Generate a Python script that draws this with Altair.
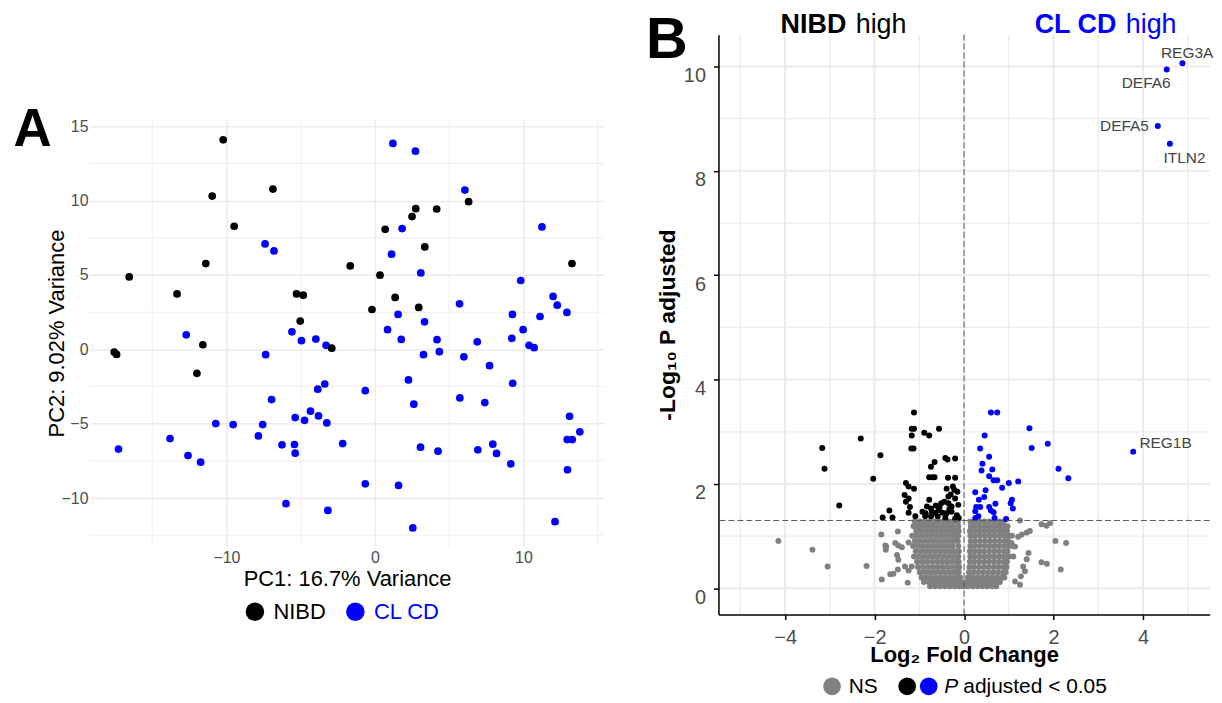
import altair as alt
import pandas as pd

# ---------------- Panel A: PCA ----------------
nibd_pc1 = [-10.22, -6.87, -10.96, -9.48, -11.39, -16.55, -13.33, -5.28, -4.83, -5.03,
            -11.59, -1.66, 0.34, -0.20, 0.69, -2.91, -17.56, -17.40, -11.99, 2.75,
            4.16, 2.50, 6.31, 3.36, 13.27, 1.36, 2.95]
nibd_pc2 = [14.09, 10.78, 10.31, 8.28, 5.77, 4.87, 3.73, 3.73, 3.64, 1.90,
            0.31, 5.61, 4.99, 2.68, 8.07, 0.08, -0.18, -0.34, -1.61, 9.46,
            9.44, 8.93, 9.93, 6.89, 5.77, 3.49, 2.82]

clcd_pc1 = [-7.40, -6.80, -12.71, -5.59, -4.95, -3.98, -3.29, -7.36, 0.85, -3.38,
            -3.85, -0.65, -6.96, -4.34, -3.80, -5.37, -4.74, -3.24, -10.72, -9.55,
            -7.56, -7.85, -13.80, -17.27, -6.26, -5.42, -5.37, -2.17, -12.59, -11.74,
            -0.65, -5.99, -3.17,
            1.21, 2.73, 6.06, 1.83, 11.25, 1.12, 3.09, 9.82, 5.70, 12.00,
            12.28, 12.93, 1.56, 9.26, 11.12, 3.34, 1.77, 4.18, 6.89, 9.22,
            9.98, 10.38, 10.72,
            3.27, 4.34, 5.99, 7.72, 2.26, 9.28, 5.72, 2.62, 7.40, 13.11,
            3.07, 4.25, 6.93, 7.94, 8.19, 9.15, 12.95, 13.29, 13.80, 12.97,
            1.59, 12.13, 2.55]
clcd_pc2 = [7.09, 6.62, 0.98, 1.18, 0.58, 0.69, 0.27, -0.36, 1.32, -2.33,
            -2.68, -2.78, -3.38, -4.16, -4.48, -4.59, -4.77, -4.95, -4.99, -5.06,
            -5.06, -5.82, -6.00, -6.71, -6.42, -6.40, -6.98, -6.34, -7.14, -7.59,
            -9.04, -10.38, -10.83,
            13.85, 13.33, 10.71, 8.12, 8.23, 6.40, 5.14, 4.63, 3.06, 3.56,
            2.97, 2.48, 2.35, 2.35, 2.21, 1.85, 0.67, 0.65, 0.51, 0.74,
            1.32, 0.27, 0.11,
            -0.36, -0.16, -0.50, -1.10, -2.06, -2.28, -3.27, -3.69, -3.58, -4.50,
            -6.58, -6.85, -6.76, -6.38, -7.00, -7.70, -6.07, -6.07, -5.55, -8.10,
            -9.15, -11.59, -12.01]

pca_groups = ["NIBD", "CL CD"]
pca_colors = ["#000000", "#0000FF"]
pca_x_major = [-10, 0, 10]
pca_x_minor = [-15, -5, 5, 15]
pca_y_major = [-10, -5, 0, 5, 10, 15]
pca_y_minor = [12.5, 7.5, 2.5, -2.5, -7.5, -12.5]

# ---------------- Panel B: volcano ----------------
# dense non-significant core, read row by row: (-log10 p, [log2FC ...])
ns_core_rows = [
    (1.28, [-1.10, -0.99, -0.88, -0.77, -0.66, -0.55, -0.44, -0.34, -0.24, -0.14,
            0.14, 0.24, 0.34, 0.45, 0.56, 0.67, 0.78, 0.88]),
    (1.19, [-1.13, -1.02, -0.91, -0.80, -0.69, -0.58, -0.47, -0.36, -0.25, -0.13,
            0.15, 0.25, 0.36, 0.47, 0.58, 0.69, 0.80, 0.90, 0.97]),
    (1.10, [-1.07, -0.96, -0.85, -0.74, -0.63, -0.52, -0.41, -0.30, -0.20, -0.12,
            0.13, 0.23, 0.34, 0.45, 0.56, 0.67, 0.78, 0.88, 0.96]),
    (1.01, [-1.16, -1.05, -0.94, -0.83, -0.72, -0.61, -0.50, -0.39, -0.28, -0.18, -0.13,
            0.14, 0.24, 0.35, 0.46, 0.57, 0.68, 0.79, 0.90, 1.00, 1.07]),
    (0.91, [-1.10, -0.99, -0.88, -0.77, -0.66, -0.55, -0.44, -0.33, -0.23, -0.14,
            0.15, 0.25, 0.36, 0.47, 0.58, 0.69, 0.80, 0.91, 0.98]),
    (0.81, [-1.14, -1.03, -0.92, -0.81, -0.70, -0.59, -0.48, -0.37, -0.26, -0.13,
            0.14, 0.24, 0.35, 0.46, 0.57, 0.68, 0.79, 0.90, 1.00, 1.09]),
    (0.71, [-1.08, -0.97, -0.86, -0.75, -0.64, -0.53, -0.42, -0.31, -0.21, -0.12,
            0.13, 0.23, 0.34, 0.45, 0.56, 0.67, 0.78, 0.89, 0.97]),
    (0.61, [-1.12, -1.01, -0.90, -0.79, -0.68, -0.57, -0.46, -0.35, -0.24, -0.13,
            0.14, 0.24, 0.35, 0.46, 0.57, 0.68, 0.79, 0.90, 1.00]),
    (0.51, [-1.05, -0.94, -0.83, -0.72, -0.61, -0.50, -0.39, -0.28, -0.18, -0.12,
            0.13, 0.23, 0.34, 0.45, 0.56, 0.67, 0.78, 0.89, 0.96]),
    (0.41, [-1.03, -0.92, -0.81, -0.70, -0.59, -0.48, -0.37, -0.26, -0.16, -0.11,
            0.12, 0.22, 0.33, 0.44, 0.55, 0.66, 0.77, 0.88, 0.95]),
    (0.31, [-0.99, -0.88, -0.77, -0.66, -0.55, -0.44, -0.33, -0.22, -0.12,
            0.11, 0.21, 0.32, 0.43, 0.54, 0.65, 0.76, 0.87, 0.93]),
    (0.21, [-0.95, -0.84, -0.73, -0.62, -0.51, -0.40, -0.29, -0.18, -0.09,
            0.09, 0.18, 0.29, 0.40, 0.51, 0.62, 0.73, 0.84, 0.90]),
    (0.12, [-0.90, -0.79, -0.68, -0.57, -0.46, -0.35, -0.24, -0.14, -0.05,
            0.05, 0.14, 0.25, 0.36, 0.47, 0.58, 0.69, 0.80]),
    (0.04, [-0.76, -0.65, -0.54, -0.43, -0.32, -0.21, -0.11, -0.02,
            0.08, 0.19, 0.30, 0.41, 0.52, 0.63, 0.72]),
]
ns_scatter = [(-4.15, 0.91), (-3.39, 0.74), (-3.05, 0.42), (-2.18, 0.43), (-1.85, 1.03),
              (-1.48, 1.09), (-1.76, 0.82), (-1.75, 0.74), (-1.54, 0.87), (-1.47, 0.82),
              (-1.39, 0.79), (-1.24, 0.88), (-1.50, 0.64), (-1.47, 0.55), (-1.48, 0.36),
              (-1.24, 0.34), (-1.65, 0.27), (-1.84, 0.17), (-1.26, 0.11), (-1.32, 0.42),
              (-1.17, 0.42), (-1.58, 0.28), (-1.74, 0.80),
              (1.25, 1.30), (1.73, 1.23), (1.84, 1.20), (1.92, 1.25), (1.47, 1.10),
              (1.40, 1.07), (1.29, 1.03), (2.04, 0.91), (2.28, 0.87), (2.16, 0.36),
              (1.73, 0.50), (1.85, 0.47), (1.44, 0.68), (1.40, 0.56), (1.32, 0.42),
              (1.36, 0.33), (1.27, 0.23), (1.14, 0.13), (1.25, 0.07), (1.14, 0.80),
              (1.06, 0.87), (1.21, 0.99), (1.10, 0.61)]
nibd_sig = [(-3.17, 2.69), (-3.12, 2.29), (-2.79, 1.59), (-2.31, 2.87), (-1.87, 2.55),
            (-2.03, 2.10), (-1.67, 1.49), (-1.82, 1.36), (-1.60, 1.36), (-1.12, 3.37),
            (-1.17, 3.06), (-1.12, 3.06), (-1.17, 2.93), (-0.89, 2.98), (-0.78, 2.93),
            (-0.56, 3.06), (-1.18, 2.68), (-1.13, 2.68), (-0.42, 2.50), (-0.37, 2.47),
            (-0.20, 2.49), (-0.66, 2.42), (-0.74, 2.33), (-0.78, 2.13), (-0.70, 2.13),
            (-0.66, 2.13), (-0.36, 2.12), (-0.20, 2.12), (-1.30, 2.02), (-1.24, 1.95),
            (-1.12, 1.91), (-1.33, 1.79), (-1.24, 1.72), (-0.39, 1.91), (-0.25, 1.95),
            (-0.22, 1.89), (-0.35, 1.76), (-0.20, 1.72), (-0.44, 1.66), (-0.35, 1.63),
            (-0.28, 1.57), (-0.51, 1.63), (-0.63, 1.59), (-0.74, 1.53), (-0.83, 1.57),
            (-0.78, 1.70), (-0.93, 1.47), (-0.86, 1.44), (-0.72, 1.47), (-0.57, 1.50),
            (-0.39, 1.44), (-0.28, 1.47), (-0.16, 1.40), (-0.59, 1.38), (-0.74, 1.38),
            (-0.87, 1.38), (-0.42, 1.35), (-0.20, 1.34), (-1.09, 1.38), (-1.24, 1.45),
            (-1.21, 1.56), (-1.30, 1.66), (-0.15, 1.85), (-0.30, 1.80), (-0.48, 1.45),
            (-0.33, 1.52), (-0.13, 1.60), (-0.12, 1.35), (-0.55, 1.55), (-0.65, 1.45)]
clcd_sig = [(0.60, 3.37), (0.74, 3.37), (1.46, 3.07), (0.46, 2.93), (1.87, 2.77),
            (1.51, 2.69), (0.36, 2.68), (0.56, 2.52), (0.41, 2.39), (0.63, 2.28),
            (0.39, 2.26), (2.11, 2.29), (2.33, 2.11), (0.56, 2.15), (0.66, 2.07),
            (0.74, 2.07), (1.00, 2.02), (1.21, 2.05), (0.85, 1.93), (0.25, 1.84),
            (0.48, 1.88), (0.45, 1.75), (0.33, 1.70), (1.07, 1.70), (1.04, 1.63),
            (1.09, 1.53), (0.70, 1.62), (0.27, 1.56), (0.36, 1.56), (0.25, 1.48),
            (0.32, 1.38), (0.25, 1.35), (0.56, 1.56), (0.60, 1.49), (0.66, 1.46),
            (0.68, 1.35), (0.94, 1.33)]
gene_names = ["REG3A", "DEFA6", "DEFA5", "ITLN2", "REG1B"]
gene_lfc = [4.88, 4.53, 4.33, 4.60, 3.78]
gene_nlp = [10.06, 9.94, 8.86, 8.52, 2.62]

volc_cats = ["NS", "NIBD", "CL CD"]
volc_colors = ["#808080", "#000000", "#0000FF"]
volc_x_major = [-4, -2, 0, 2, 4]
volc_x_minor = [-5, -3, -1, 1, 3, 5]
volc_y_major = [0, 2, 4, 6, 8, 10]
volc_y_minor = [1, 3, 5, 7, 9]
padj_cut = 0.05
nlp_cut = 1.30103  # -log10(0.05)

# label placement (pixel offsets from each gene's point) -- style, not data
label_offsets = {"REG3A": (4.7, -5.4), "DEFA6": (-20.7, 18.3), "DEFA5": (-33.5, 4.7),
                 "ITLN2": (14.6, 19.0), "REG1B": (32.5, -3.4)}

GRID = "#EBEBEB"
LAB = "#4D4D4D"
one = pd.DataFrame({"k": [0]})


def txt(text, x, y, size, weight="normal", color="black", align="left", style="normal",
        baseline="alphabetic"):
    return alt.Chart(one).mark_text(text=text, fontSize=size, fontWeight=weight, color=color,
                                    align=align, fontStyle=style,
                                    baseline=baseline).encode(x=alt.value(x), y=alt.value(y))


# ---------- build panel A ----------
pca_df = pd.concat([
    pd.DataFrame({"PC1": clcd_pc1, "PC2": clcd_pc2, "group": "CL CD"}),
    pd.DataFrame({"PC1": nibd_pc1, "PC2": nibd_pc2, "group": "NIBD"}),
], ignore_index=True)

axis_ax = alt.Axis(values=pca_x_major, grid=True, gridColor=GRID, gridWidth=1.4, domain=False,
                   ticks=False, tickSize=0, labelFontSize=16, labelColor=LAB, labelPadding=2.5,
                   titleFontSize=22, titleFontWeight="normal", titleColor="black",
                   titleY=39, titleBaseline="alphabetic")
axis_ay = alt.Axis(values=pca_y_major, grid=True, gridColor=GRID, gridWidth=1.4, domain=False,
                   ticks=False, tickSize=0, labelFontSize=16, labelColor=LAB, labelPadding=2,
                   titleFontSize=22, titleFontWeight="normal", titleColor="black",
                   titleX=-26.7, titleBaseline="alphabetic")
xA = alt.X("PC1:Q", scale=alt.Scale(domain=[-19.19, 15.44], nice=False, zero=False),
           axis=axis_ax, title="PC1: 16.7% Variance")
yA = alt.Y("PC2:Q", scale=alt.Scale(domain=[-13.28, 15.47], nice=False, zero=False),
           axis=axis_ay, title="PC2: 9.02% Variance")

minor_ax = alt.Chart(pd.DataFrame({"PC1": pca_x_minor})).mark_rule(
    color=GRID, strokeWidth=0.8).encode(x=xA)
minor_ay = alt.Chart(pd.DataFrame({"PC2": pca_y_minor})).mark_rule(
    color=GRID, strokeWidth=0.8).encode(y=yA)

pts_a = alt.Chart(pca_df).mark_circle(size=60, opacity=1).encode(
    x=xA, y=yA,
    color=alt.Color("group:N", scale=alt.Scale(domain=pca_groups, range=pca_colors),
                    legend=alt.Legend(title=None, orient="none", legendX=154.5, legendY=568.2,
                                      direction="horizontal", symbolType="circle",
                                      symbolSize=346, symbolStrokeWidth=0, symbolOpacity=1,
                                      labelFontSize=22, labelOffset=7.6, columnPadding=17.8,
                                      padding=0,
                                      labelColor={"expr": "datum.label == 'CL CD' ? '#0000FF' : '#000000'"})),
)

panel_a = alt.layer(
    minor_ax, minor_ay, pts_a,
    txt("A", -76.7, 27, 53, weight="bold"),
).properties(width=516, height=429)

# empty spacer that pushes panel A down relative to panel B
spacer = alt.Chart(one).mark_point(opacity=0).encode(
    x=alt.value(0), y=alt.value(0)).properties(width=10, height=70)

# ---------- build panel B ----------
ns_pts = [(x, y) for y, xs in ns_core_rows for x in xs] + ns_scatter
gene_pts = list(zip(gene_lfc, gene_nlp))
volc_df = pd.concat([
    pd.DataFrame(ns_pts, columns=["lfc", "nlp"]).assign(cat="NS"),
    pd.DataFrame(nibd_sig, columns=["lfc", "nlp"]).assign(cat="NIBD"),
    pd.DataFrame(clcd_sig + gene_pts, columns=["lfc", "nlp"]).assign(cat="CL CD"),
], ignore_index=True)

axis_bx = alt.Axis(values=volc_x_major, grid=False, domainColor="black", domainWidth=1.5,
                   tickColor="black", tickWidth=1.5, tickSize=5, labelFontSize=20,
                   labelColor=LAB, labelPadding=8, titleFontSize=22, titleFontWeight="bold",
                   titleColor="black", titleY=47.5, titleBaseline="alphabetic", zindex=1)
axis_by = alt.Axis(values=volc_y_major, grid=False, domainColor="black", domainWidth=1.5,
                   tickColor="black", tickWidth=1.5, tickSize=5, labelFontSize=20,
                   labelColor=LAB, labelPadding=8, labelBaseline="top", labelOffset=-1,
                   titleFontSize=23, titleFontWeight="bold", titleColor="black",
                   titleX=-44.5, titleBaseline="alphabetic", zindex=1)
xB = alt.X("lfc:Q", scale=alt.Scale(domain=[-5.49, 5.49], nice=False, zero=False),
           axis=axis_bx, title="Log₂ Fold Change")
yB = alt.Y("nlp:Q", scale=alt.Scale(domain=[-0.502, 10.61], nice=False, zero=False),
           axis=axis_by, title="-Log₁₀ P adjusted")

grid_layers = [
    alt.Chart(pd.DataFrame({"lfc": volc_x_minor})).mark_rule(color=GRID, strokeWidth=1.2).encode(x=xB),
    alt.Chart(pd.DataFrame({"nlp": volc_y_minor})).mark_rule(color=GRID, strokeWidth=1.2).encode(y=yB),
    alt.Chart(pd.DataFrame({"lfc": volc_x_major})).mark_rule(color=GRID, strokeWidth=2).encode(x=xB),
    alt.Chart(pd.DataFrame({"nlp": volc_y_major})).mark_rule(color=GRID, strokeWidth=2).encode(y=yB),
]

pts_b = alt.Chart(volc_df).mark_circle(size=36, opacity=1).encode(
    x=xB, y=yB,
    color=alt.Color("cat:N", scale=alt.Scale(domain=volc_cats, range=volc_colors), legend=None),
)

vline = alt.Chart(pd.DataFrame({"lfc": [0]})).mark_rule(
    color="#555555", strokeWidth=1, strokeDash=[6, 3]).encode(x=xB)
hline = alt.Chart(pd.DataFrame({"nlp": [nlp_cut]})).mark_rule(
    color="#555555", strokeWidth=1, strokeDash=[6, 3]).encode(y=yB)

gene_layers = []
for name, lfc, nlp in zip(gene_names, gene_lfc, gene_nlp):
    dx, dy = label_offsets[name]
    gene_layers.append(
        alt.Chart(pd.DataFrame({"lfc": [lfc], "nlp": [nlp], "gene": [name]})).mark_text(
            dx=dx, dy=dy, fontSize=15.5, color="#444444", align="center", baseline="alphabetic"
        ).encode(x=xB, y=yB, text="gene:N")
    )

annot_b = [
    txt("B", -72.6, 23.7, 58, weight="bold"),
    txt("NIBD", 128.3, -1.5, 27, weight="bold", align="right"),
    txt("high", 137.7, -1.5, 27),
    txt("CL CD", 399.3, -1.5, 27, weight="bold", color="#0000FF", align="right"),
    txt("high", 408.7, -1.5, 27, color="#0000FF"),
    # legend
    alt.Chart(one).mark_circle(size=314, color="#808080", opacity=1).encode(x=alt.value(114), y=alt.value(654)),
    txt("NS", 130.7, 661, 21),
    alt.Chart(one).mark_circle(size=314, color="#000000", opacity=1).encode(x=alt.value(189.4), y=alt.value(654)),
    alt.Chart(one).mark_circle(size=314, color="#0000FF", opacity=1).encode(x=alt.value(211), y=alt.value(654)),
    txt("P", 226.7, 661, 21, style="italic"),
    txt("adjusted < " + str(padj_cut), 245.7, 661, 21),
]

panel_b = alt.layer(*grid_layers, pts_b, vline, hline, *gene_layers, *annot_b).properties(
    width=493, height=582)

chart = alt.hconcat(
    alt.vconcat(spacer, panel_a, spacing=0),
    panel_b, spacing=40.7
).resolve_scale(color="independent").properties(
    padding={"left": 5.3, "top": 1.5, "right": 0, "bottom": 0}
).configure(font="Liberation Sans").configure_view(stroke=None)

chart.save("out.html", embed_options={"renderer": "svg", "actions": False})
